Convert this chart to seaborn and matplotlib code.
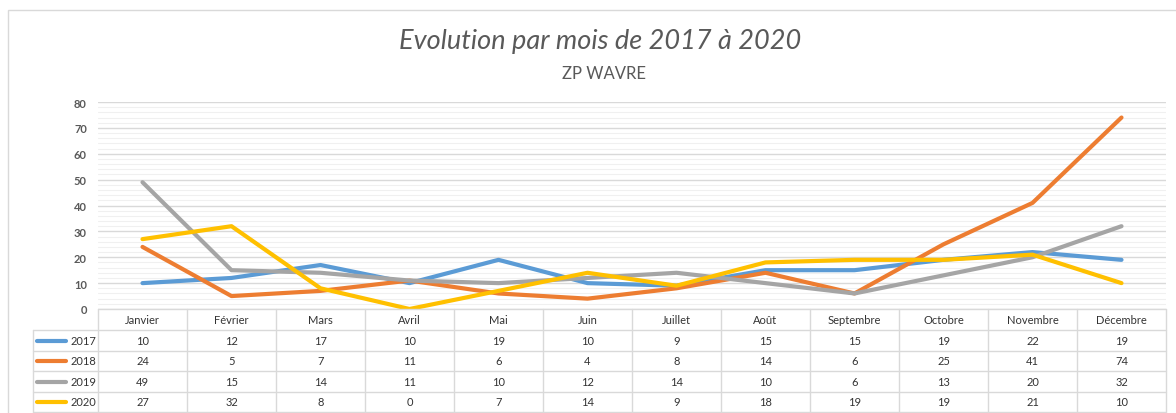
import numpy as np
import pandas as pd
import matplotlib.pyplot as plt
import matplotlib.transforms as mtransforms
import seaborn as sns

months = ["Janvier", "Février", "Mars", "Avril", "Mai", "Juin", "Juillet",
          "Août", "Septembre", "Octobre", "Novembre", "Décembre"]
years = ["2017", "2018", "2019", "2020"]
v2017 = [10, 12, 17, 10, 19, 10, 9, 15, 15, 19, 22, 19]
v2018 = [24, 5, 7, 11, 6, 4, 8, 14, 6, 25, 41, 74]
v2019 = [49, 15, 14, 11, 10, 12, 14, 10, 6, 13, 20, 32]
v2020 = [27, 32, 8, 0, 7, 14, 9, 18, 19, 19, 21, 10]
colors = ["#5B9BD5", "#ED7D31", "#A5A5A5", "#FFC000"]

series = [v2017, v2018, v2019, v2020]
df = pd.DataFrame({
    "mois": months * 4,
    "x": list(range(12)) * 4,
    "annee": np.repeat(years, 12),
    "valeur": v2017 + v2018 + v2019 + v2020,
})

sns.set_style("white")
plt.rcParams["font.family"] = ["Lato", "DejaVu Sans"]
txt = "#333333"

W, H = 1176, 414
fig = plt.figure(figsize=(W / 100, H / 100), dpi=100)
ax = fig.add_axes([98 / W, 1 - 310 / H, 1068 / W, 207 / H])

sns.lineplot(data=df, x="x", y="valeur", hue="annee", palette=colors,
             linewidth=3, ax=ax, legend=False, sort=False)
for l in ax.lines:
    l.set_solid_capstyle("round")
    l.set_solid_joinstyle("round")

ax.set_xlim(-0.5, 11.5)
ax.set_ylim(0, 80)
ax.set_yticks(range(0, 81, 10))
ax.set_yticks(range(0, 81, 2), minor=True)
ax.grid(axis="y", which="major", color="#D9D9D9", linewidth=1)
ax.grid(axis="y", which="minor", color="#F0F0F0", linewidth=0.8)
ax.set_axisbelow(True)
ax.set_xticks([])
ax.set_xlabel("")
ax.set_ylabel("")
ax.tick_params(axis="y", length=0, labelsize=8, labelcolor="#595959", pad=8)
for lab in ax.get_yticklabels():
    lab.set_fontweight("bold")
sns.despine(ax=ax, left=True, bottom=True)

# data table under the axes
tr = mtransforms.blended_transform_factory(ax.transData, fig.transFigure)
row_y = [310, 331, 352, 372, 393, 413]
line_kw = dict(color="#D9D9D9", linewidth=1, transform=tr, clip_on=False)
x_left_tbl = -0.5 - 65 / 89
for i, y in enumerate(row_y):
    yf = 1 - y / H
    x0 = -0.5 if i == 0 else x_left_tbl
    ax.plot([x0, 11.5], [yf, yf], **line_kw)
for k in range(13):
    ax.plot([k - 0.5, k - 0.5], [1 - 310 / H, 1 - 413 / H], **line_kw)
ax.plot([x_left_tbl, x_left_tbl], [1 - 331 / H, 1 - 413 / H], **line_kw)

for j, m in enumerate(months):
    ax.text(j, 1 - 320.5 / H, m, transform=tr, ha="center", va="center",
            fontsize=8, color=txt)
for i, (yr, vals, c) in enumerate(zip(years, series, colors)):
    yc = 1 - (row_y[i + 1] + row_y[i + 2]) / 2 / H
    ax.plot([x_left_tbl + 0.04, x_left_tbl + 0.37], [yc, yc], color=c,
            linewidth=3, solid_capstyle="round", transform=tr, clip_on=False)
    ax.text(-0.52, yc, yr, transform=tr, ha="right", va="center",
            fontsize=8, color=txt)
    for j, v in enumerate(vals):
        ax.text(j, yc, str(v), transform=tr, ha="center", va="center",
                fontsize=8, color=txt)

# outer chart border
fig.patches.append(plt.Rectangle((8 / W, -0.1), 1.2, 1 - 11 / H + 0.1,
                                 transform=fig.transFigure, fill=False,
                                 edgecolor="#D9D9D9", linewidth=1))

fig.text(600 / W, 1 - 42 / H, "Evolution par mois de 2017 à 2020",
         ha="center", va="center", fontsize=19.5, style="italic",
         color="#595959")
fig.text(604 / W, 1 - 74 / H, "ZP WAVRE", ha="center", va="center",
         fontsize=12, color="#595959")

fig.savefig("out.png", dpi=100)
